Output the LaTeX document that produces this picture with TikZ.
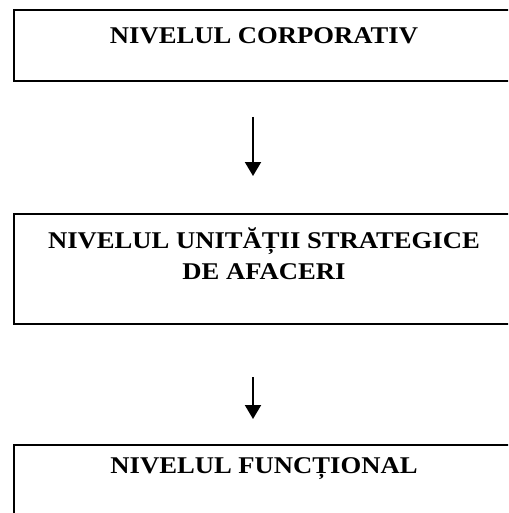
\documentclass[tikz,border=0pt]{standalone}
\usepackage{fontspec}
\setmainfont{Liberation Serif}
\newfontfamily\widetimes[FakeStretch=1.11]{Liberation Serif}
\usetikzlibrary{arrows.meta}
\begin{document}
\begin{tikzpicture}[x=1pt,y=1pt,
  levelbox/.style={draw=black,line width=2pt,minimum width=500pt,inner sep=0pt,anchor=north west},
  leveltext/.style={font=\widetimes\bfseries\fontsize{24}{31}\selectfont,align=center,anchor=base},
  flow/.style={line width=2pt,-{Triangle[width=16pt,length=14pt]}}]
\useasboundingbox (0,0) rectangle (508,-513);
\begin{scope}
\clip (0,0) rectangle (508,-513);
\node[levelbox,minimum height=71pt] (b1) at (13,-9) {};
\node[levelbox,minimum height=110pt] (b2) at (13,-213) {};
\node[levelbox,minimum height=90pt] (b3) at (13,-444) {};
\end{scope}
\node[leveltext] (t1) at (264,-43.3) {NIVELUL CORPORATIV};
\node[leveltext] (t2) at (264,-248) {NIVELUL UNITĂȚII STRATEGICE};
\node[leveltext] (t2b) at (264,-279) {DE AFACERI};
\node[leveltext] (t3) at (264,-473) {NIVELUL FUNCȚIONAL};
\coordinate (a1s) at (253,-117);
\coordinate (a1e) at (253,-176);
\coordinate (a2s) at (253,-377);
\coordinate (a2e) at (253,-419);
\draw[flow] (a1s) -- (a1e);
\draw[flow] (a2s) -- (a2e);
\end{tikzpicture}
\end{document}
